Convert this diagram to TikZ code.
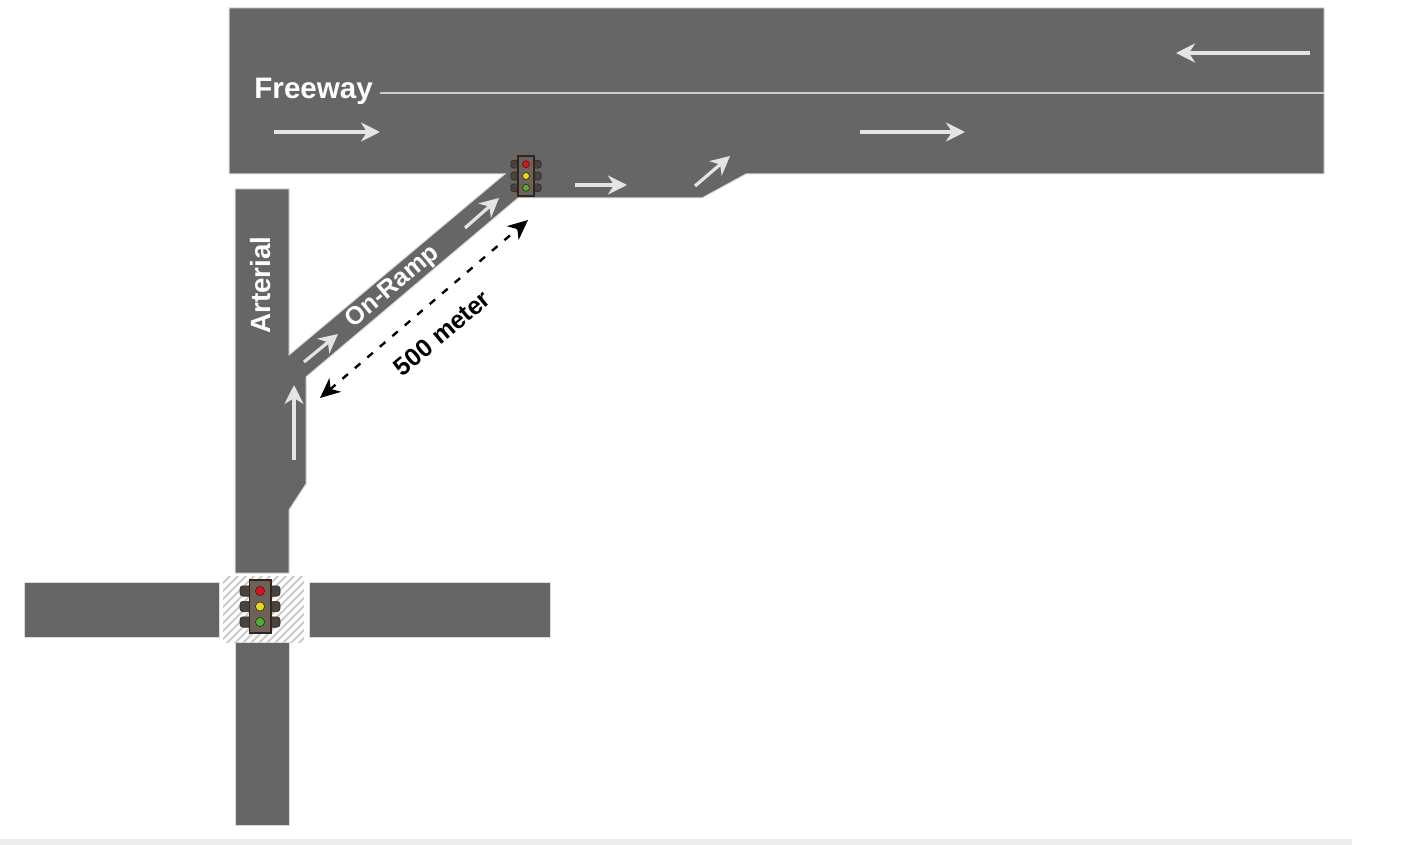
\documentclass[tikz,border=0pt]{standalone}
\usepackage{fontspec}
\setmainfont{Liberation Sans}
\usetikzlibrary{arrows.meta}
\definecolor{road}{HTML}{666666}
\definecolor{lanemark}{HTML}{E4E4E4}
\definecolor{housing}{HTML}{6E6258}
\definecolor{hoodc}{HTML}{4A423D}
\definecolor{edgeT}{HTML}{2E2622}
\definecolor{lampR}{HTML}{E0101E}
\definecolor{lampY}{HTML}{E6D81E}
\definecolor{lampG}{HTML}{4CAF30}
\tikzset{
  x=0.5pt,y=-0.5pt,
  roadfill/.style={fill=road,draw=black!14,line width=.5pt},
  lanearrow/.style={draw=lanemark,line width=1.6pt,-{Stealth[length=9.5pt,width=9.5pt,inset=3pt]}},
  label road/.style={text=white,font=\bfseries\fontsize{14.8}{16}\selectfont,inner sep=0pt},
  label dist/.style={text=black,font=\bfseries\fontsize{12.5}{14}\selectfont,inner sep=0pt},
  pics/tlight/.style={code={
    \foreach \yy in {-1,0,1}{
      \fill[fill=hoodc,draw=edgeT,line width=.3pt,rounded corners=1.5pt] (-20*\tlscale,\yy*15.5*\tlscale-5.2*\tlscale) rectangle (20*\tlscale,\yy*15.5*\tlscale+5.2*\tlscale);
    }
    \fill[fill=#1,draw=edgeT,line width=.8pt] (-10.7*\tlscale,-26.5*\tlscale) rectangle (10.7*\tlscale,26.5*\tlscale);
    \fill[lampR,draw=edgeT,line width=.3pt] (0,-15.5*\tlscale) circle[radius=4.6*\tlscale];
    \fill[lampY,draw=edgeT,line width=.3pt] (0,0) circle[radius=4.6*\tlscale];
    \fill[lampG,draw=edgeT,line width=.3pt] (0,15.5*\tlscale) circle[radius=4.6*\tlscale];
  }}
}
\begin{document}
\begin{tikzpicture}
\useasboundingbox (0,0) rectangle (1418,845);
\fill[white] (0,0) rectangle (1418,845);
\fill[black!7] (0,839) rectangle (1352,845);
% Freeway, acceleration lane and on-ramp
\path[roadfill] (229,8) -- (1324,8) -- (1324,174) -- (746,174) -- (702,198) -- (518,198)
  -- (306,377) -- (306,484) -- (289,510) -- (289,573) -- (235,573) -- (235,189) -- (289,189)
  -- (289,355) -- (500,178) -- (505,174) -- (229,174) -- cycle;
% Cross street
\path[roadfill] (24,582) rectangle (219,637);
\path[roadfill] (309,582) rectangle (550,637);
\path[roadfill] (235,642) rectangle (289,825);
% Intersection hatching
\begin{scope}
  \clip (223,576) rectangle (304,642);
  \foreach \k in {0,8,...,168}{
    \draw[black!20,line width=1pt] (140+\k,650) -- (140+\k+80,570);
  }
\end{scope}
% Lane line and labels
\node[label road,anchor=west] (fw) at (254,91) {Freeway};
\coordinate (laneEnd) at (1324,93);
\draw[black!20,line width=.7pt] (380,93) -- (laneEnd);
\node[label road,rotate=90,font=\bfseries\fontsize{13.9}{15}\selectfont] (art) at (261,285) {Arterial};
\node[label road,rotate=40,font=\bfseries\fontsize{12.6}{15}\selectfont] (ramp) at (393,287) {On-Ramp};
\node[label dist,rotate=40] (dist) at (442,333) {500 meter};
% Lane arrows
\draw[lanearrow] (1310,53) -- (1176,53);
\draw[lanearrow] (274,132) -- (380,132);
\draw[lanearrow] (860,132) -- (965,132);
\draw[lanearrow] (575,185) -- (627,185);
\draw[lanearrow] (695,186) -- (730,156);
\draw[lanearrow] (465,228) -- (499,198);
\draw[lanearrow] (304,362) -- (338,334);
\draw[lanearrow] (294,460) -- (294,385);
% Distance marker
\coordinate (distA) at (320,398);
\coordinate (distB) at (528,220);
\draw[black,line width=1.2pt,dash pattern=on 3.6pt off 4.6pt,{Stealth[length=10pt,width=9pt,inset=3pt]}-{Stealth[length=10pt,width=9pt,inset=3pt]}] (distA) -- (distB);
% Traffic lights
\def\tlscale{1}
\pic at (260,606.5) {tlight=housing};
\def\tlscale{.76}
\pic at (526,176) {tlight=housing};
\end{tikzpicture}
\end{document}
